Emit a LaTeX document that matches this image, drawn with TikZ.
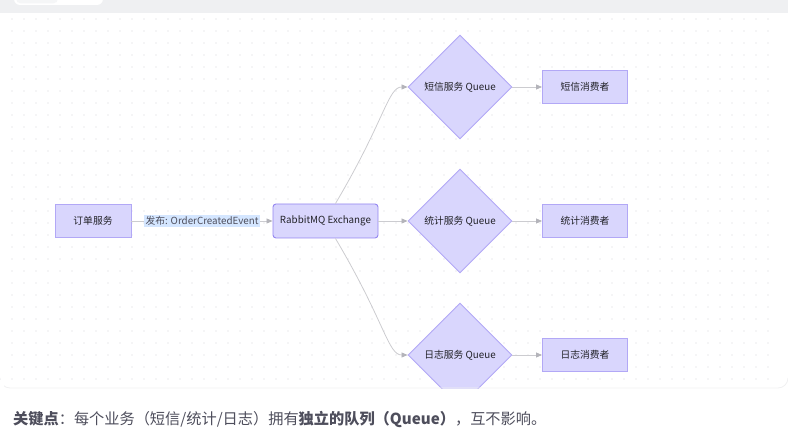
\documentclass[tikz,border=0pt]{standalone}
\usepackage{fontspec}
\setmainfont{Noto Sans CJK SC}
\usepackage{tikz}
\usetikzlibrary{positioning, shapes.geometric, arrows.meta}
\definecolor{MQFill}{RGB}{217,214,253}
\definecolor{MQLine}{RGB}{178,168,246}
\definecolor{MQDark}{RGB}{148,134,240}
\definecolor{MQEdge}{RGB}{204,204,208}
\definecolor{MQTip}{RGB}{180,180,186}
\definecolor{MQLabel}{RGB}{212,230,255}
\definecolor{MQText}{RGB}{34,34,40}
\definecolor{MQNote}{RGB}{78,78,92}
\definecolor{MQBand}{RGB}{239,240,242}
\definecolor{MQDot}{RGB}{234,234,237}

\begin{document}
\begin{tikzpicture}[x=1pt, y=-1pt,
  box/.style={rectangle, draw=MQLine, fill=MQFill, line width=0.9pt, minimum width=76pt, minimum height=33pt, font=\fontsize{9.8}{12}\selectfont, text=MQText, inner sep=2pt},
  hub/.style={box, draw=MQDark, rounded corners=3pt, minimum width=105pt, minimum height=34pt},
  queue/.style={diamond, draw=MQLine, fill=MQFill, line width=0.9pt, minimum width=104pt, minimum height=104pt, inner sep=0pt, font=\fontsize{9.8}{12}\selectfont, text=MQText},
  cons/.style={box, minimum width=85pt},
  arrow/.style={-{Triangle[length=6pt, width=5pt, color=MQTip]}, line width=0.8pt, MQEdge},
  lbl/.style={fill=MQLabel, inner sep=1.5pt, font=\fontsize{9.8}{12}\selectfont, text=MQNote}
]
\useasboundingbox (0,0) rectangle (788,438);

% top band and tab
\fill[MQBand] (0,0) rectangle (788,13);
\fill[white, rounded corners=6pt] (14,-10) rectangle (103,5);
\fill[MQBand!60!white, rounded corners=5pt] (16,-10) rectangle (58,3.5);

% dotted grid
\foreach \i in {0,...,63}
  \foreach \j in {0,...,30}
    \fill[MQDot] (12+12*\i, 19+12*\j) circle (0.9pt);

% nodes
\node[box] (order) at (93,221) {订单服务};
\node[hub] (exchange) at (325.5,221) {RabbitMQ Exchange};
\node[queue] (smsq) at (460,87) {短信服务 Queue};
\node[queue] (statq) at (460,221) {统计服务 Queue};
\node[queue] (logq) at (460,355) {日志服务 Queue};
\node[cons] (smsc) at (585,87) {短信消费者};
\node[cons] (statc) at (585,221) {统计消费者};
\node[cons] (logc) at (585,355) {日志消费者};

% connectors
\draw[arrow] (order) -- node[lbl] {发布: OrderCreatedEvent} (exchange);
\draw[arrow] (exchange.north east) ++(-43,0) .. controls (385,120) and (388,87) .. (smsq.west);
\draw[arrow] (exchange) -- (statq);
\draw[arrow] (exchange.south east) ++(-43,0) .. controls (385,322) and (388,355) .. (logq.west);
\draw[arrow] (smsq) -- (smsc);
\draw[arrow] (statq) -- (statc);
\draw[arrow] (logq) -- (logc);

% card edge
\fill[white] (0,389) rectangle (788,438);
\draw[MQBand!80!gray!40!white, line width=0.8pt] (0,378) arc[start angle=180, end angle=90, radius=10] -- (778,388) arc[start angle=90, end angle=0, radius=10];
\fill[white] (0,389) rectangle (4,380);

% note
\node[anchor=west, font=\fontsize{15.2}{18}\selectfont, text=MQNote, inner sep=0pt] (note) at (13,419)
  {\textbf{关键点}：每个业务（短信/统计/日志）拥有\textbf{独立的队列（Queue）}，互不影响。};
\end{tikzpicture}
\end{document}
